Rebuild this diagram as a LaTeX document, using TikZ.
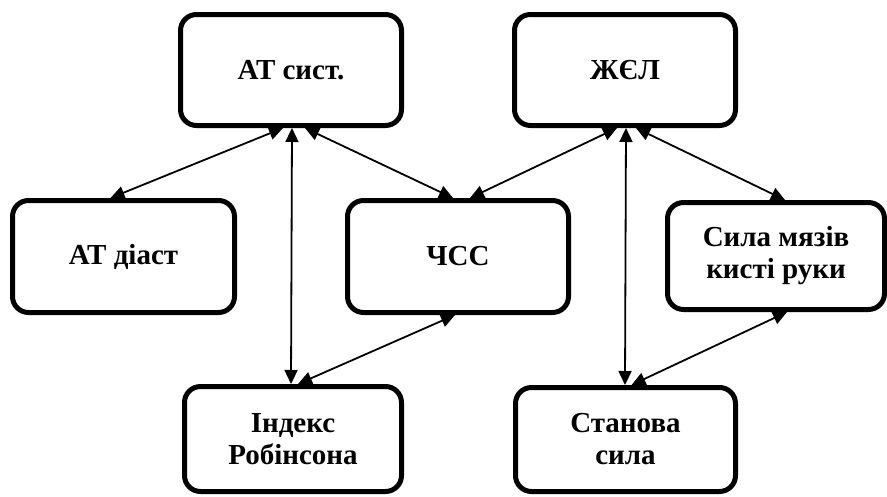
\documentclass[tikz,border=0pt]{standalone}
\usepackage{fontspec}
\setmainfont{Liberation Serif}[BoldFont={Liberation Serif Bold}]
\usetikzlibrary{arrows.meta}
\tikzset{
  box/.style={draw=black, line width=5pt, rounded corners=16pt, fill=white,
    align=center, inner sep=2pt, font=\bfseries\fontsize{29}{32}\selectfont},
  link/.style={line width=1.8pt, {Triangle[length=14pt,width=13pt]}-{Triangle[length=14pt,width=13pt]}}
}
\begin{document}
\begin{tikzpicture}[x=1pt,y=1pt]
\useasboundingbox (0,0) rectangle (887,-496);
\node[box, minimum width=221pt, minimum height=111pt] (ats) at (291,-70) {АТ сист.};
\node[box, minimum width=221pt, minimum height=111pt] (zhel) at (625,-70) {ЖЄЛ};
\node[box, minimum width=222pt, minimum height=112pt] (atd) at (123.5,-256.5) {АТ діаст};
\node[box, minimum width=221pt, minimum height=112pt] (chss) at (458,-256.5) {ЧСС};
\node[box, minimum width=217pt, minimum height=107pt] (sila) at (776,-256) {Сила мязів\\кисті руки};
\node[box, minimum width=217pt, minimum height=105pt] (index) at (293,-439) {Індекс\\Робінсона};
\node[box, minimum width=220pt, minimum height=104pt] (stan) at (625.5,-439.5) {Станова\\сила};
% connectors
\draw[link] ([xshift=-8pt]ats.south) -- ([xshift=-13pt]atd.north);
\draw[link] ([xshift=1pt]ats.south) -- (ats.south |- index.north);
\draw[link] ([xshift=14pt]ats.south) -- ([xshift=-5pt]chss.north);
\draw[link] ([xshift=-8pt]zhel.south) -- ([xshift=12pt]chss.north);
\draw[link] ([xshift=1pt]zhel.south) -- (zhel.south |- stan.north);
\draw[link] ([xshift=11pt]zhel.south) -- ([xshift=9pt]sila.north);
\draw[link] ([xshift=-3pt]chss.south) -- ([xshift=5pt]index.north);
\draw[link] ([xshift=11pt]sila.south) -- ([xshift=6pt]stan.north);
\end{tikzpicture}
\end{document}
